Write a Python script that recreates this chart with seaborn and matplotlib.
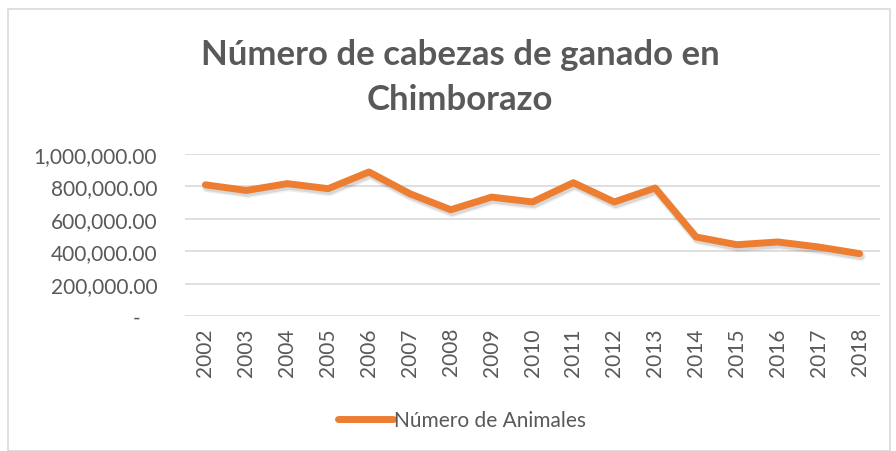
import pandas as pd
import numpy as np
import seaborn as sns
import matplotlib.pyplot as plt
import matplotlib.patheffects as pe
from matplotlib.patches import Rectangle

# Data
years = list(range(2002, 2019))
animales = [810000, 775000, 817000, 786000, 889000, 755000, 656000, 734000,
            704000, 823000, 704000, 790000, 488000, 440000, 457000, 426000, 385000]
y_ticks = [0, 200000, 400000, 600000, 800000, 1000000]

df = pd.DataFrame({'Año': years, 'Número de Animales': animales})

sns.set_theme(style='white')
plt.rcParams['font.family'] = ['Lato', 'DejaVu Sans']

gray = '#595959'
orange = '#ED7D31'

fig = plt.figure(figsize=(8.96, 4.52), dpi=100)
ax = fig.add_axes([185 / 896, 1 - 317 / 452, 695 / 896, 162 / 452])

# soft drop shadow like the Excel original
shadow = [pe.Stroke(linewidth=7, foreground='#000000', alpha=0.06, offset=(1, -2)),
          pe.Stroke(linewidth=5, foreground='#000000', alpha=0.10, offset=(1, -2)),
          pe.Normal()]
sns.lineplot(data=df, x='Año', y='Número de Animales', ax=ax, color=orange,
             linewidth=5, label='Número de Animales', path_effects=shadow)
ax.lines[0].set_solid_capstyle('round')

ax.set_xlim(2001.5, 2018.5)
ax.set_ylim(0, 1000000)
ax.set_xticks(years)
ax.set_xticklabels([str(y) for y in years], rotation=90, fontsize=15, color=gray)
ax.set_yticks(y_ticks)
ax.set_yticklabels(['-   '] + [f'{v:,.2f}' for v in y_ticks[1:]], fontsize=15, color=gray)
ax.tick_params(axis='x', length=0, pad=8)
ax.tick_params(axis='y', length=0, pad=20)
ax.grid(axis='y', color='#D9D9D9', linewidth=1.2)
ax.set_axisbelow(True)
for s in ax.spines.values():
    s.set_visible(False)
ax.set_xlabel('')
ax.set_ylabel('')

ax.legend_.remove()
leg = fig.legend(loc='center', bbox_to_anchor=(462 / 896, 1 - 421 / 452), frameon=False,
                 fontsize=15, handlelength=2.6, handletextpad=0.05,
                 labelcolor=gray)
for h in leg.get_lines():
    h.set_path_effects([pe.Normal()])
    h.set_solid_capstyle('round')

fig.text(460 / 896, 1 - 55 / 452, 'Número de cabezas de ganado en', ha='center', va='center',
         fontsize=25, fontweight='bold', color=gray)
fig.text(460 / 896, 1 - 100 / 452, 'Chimborazo', ha='center', va='center',
         fontsize=25, fontweight='bold', color=gray)

# outer chart border
fig.patches.append(Rectangle((8 / 896, 0), 882 / 896, 1 - 10 / 452, transform=fig.transFigure,
                             fill=False, edgecolor='#D9D9D9', linewidth=1.2))

plt.savefig('out.png', dpi=100)
plt.close()
